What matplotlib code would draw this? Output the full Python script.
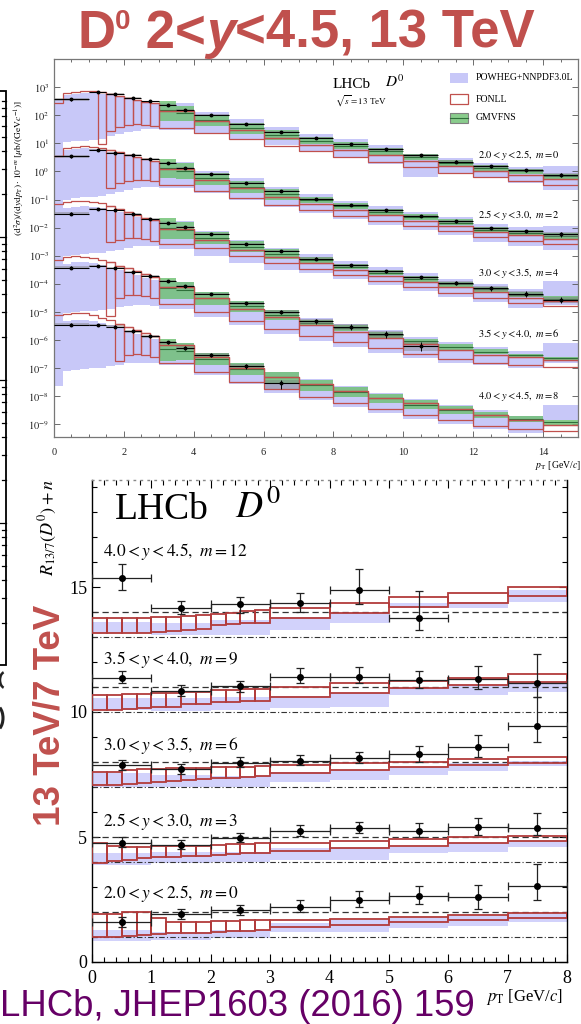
import numpy as np
import matplotlib
matplotlib.use("Agg")
import matplotlib.pyplot as plt
from matplotlib.patches import Rectangle, Arc
from matplotlib.ticker import FixedLocator, MultipleLocator

plt.rcParams['font.family'] = ['Liberation Serif', 'DejaVu Serif']
plt.rcParams['mathtext.fontset'] = 'stix'

# ---------------------------------------------------------------------------
# 13 TeV double-differential D0 cross-section, log10 of d2sigma/(dy dpT)
# in ub/(GeV/c); rows are rapidity bins, plotted with a 10^-m offset
# ---------------------------------------------------------------------------
pt_edges = [0, 1, 1.5, 2, 2.5, 3, 3.5, 4, 5, 6, 7, 8, 9, 10, 11, 12, 13, 14, 15]
th_edges = [0, .25, .5, .75, 1, 1.25, 1.5, 1.75, 2, 2.25, 2.5, 2.75, 3,
            4, 5, 6, 7, 8, 9, 10, 11, 12, 13, 14, 15]
gm_edges = [3, 3.5, 4, 5, 6, 7, 8, 9, 10, 11, 12, 13, 14, 15]
nan = float('nan')

row_labels = [r"$2.0 < y < 2.5,\ m = 0$", r"$2.5 < y < 3.0,\ m = 2$",
              r"$3.0 < y < 3.5,\ m = 4$", r"$3.5 < y < 4.0,\ m = 6$",
              r"$4.0 < y < 4.5,\ m = 8$"]
row_m = [0, 2, 4, 6, 8]

data_y20 = [2.57, 2.81, 2.77, 2.61, 2.49, 2.37, 2.19, 2.00, 1.70, 1.42, 1.18, 0.99, 0.78, 0.57, 0.35, 0.18, 0.05, -0.13]
data_y25 = [2.55, 2.75, 2.65, 2.58, 2.45, 2.29, 2.13, 1.90, 1.60, 1.30, 1.03, 0.80, 0.61, 0.41, 0.23, -0.03, -0.13, -0.24]
data_y30 = [2.50, 2.65, 2.61, 2.50, 2.32, 2.17, 2.03, 1.76, 1.43, 1.16, 0.90, 0.66, 0.45, 0.23, 0.03, -0.15, -0.35, -0.56]
data_y35 = [2.57, 2.62, 2.57, 2.42, 2.27, 2.09, 1.91, 1.65, 1.32, 1.00, 0.66, 0.48, 0.22, -0.20, nan, nan, nan, nan]
data_y40 = [2.54, 2.54, 2.48, 2.31, 2.13, 1.92, 1.72, 1.47, 1.06, 0.46, nan, nan, nan, nan, nan, nan, nan, nan]

# relative uncertainty of the measurement
derr_y20 = [0.12, 0.08, 0.08, 0.07, 0.07, 0.07, 0.07, 0.07, 0.07, 0.08, 0.08, 0.09, 0.10, 0.10, 0.11, 0.12, 0.13, 0.15]
derr_y25 = [0.12, 0.08, 0.08, 0.07, 0.07, 0.07, 0.07, 0.07, 0.07, 0.08, 0.08, 0.09, 0.10, 0.10, 0.12, 0.14, 0.15, 0.18]
derr_y30 = [0.12, 0.08, 0.08, 0.07, 0.07, 0.07, 0.07, 0.08, 0.08, 0.09, 0.10, 0.12, 0.13, 0.15, 0.18, 0.20, 0.22, 0.25]
derr_y35 = [0.12, 0.08, 0.08, 0.08, 0.08, 0.09, 0.10, 0.10, 0.12, 0.14, 0.18, 0.22, 0.26, 0.35, nan, nan, nan, nan]
derr_y40 = [0.12, 0.09, 0.09, 0.10, 0.11, 0.12, 0.14, 0.16, 0.20, 0.35, nan, nan, nan, nan, nan, nan, nan, nan]

fonll_hi_y20 = [2.45, 2.78, 2.83, 2.86, 2.85, 2.82, 2.74, 2.67, 2.60, 2.54, 2.47, 2.42, 2.15, 1.80, 1.48, 1.20, 0.95, 0.76, 0.57, 0.38, 0.18, 0.01, -0.12, -0.27]
fonll_lo_y20 = [nan, nan, nan, nan, nan, 0.97, 1.44, 1.57, 1.64, 1.68, 1.66, 1.63, 1.53, 1.35, 1.15, 0.92, 0.72, 0.52, 0.33, 0.14, -0.05, -0.20, -0.33, -0.47]
fonll_hi_y25 = [2.55, 2.82, 2.88, 2.90, 2.88, 2.84, 2.76, 2.68, 2.60, 2.52, 2.44, 2.38, 2.08, 1.70, 1.40, 1.10, 0.85, 0.63, 0.44, 0.25, 0.06, -0.16, -0.28, -0.40]
fonll_lo_y25 = [nan, nan, nan, nan, nan, nan, 1.42, 1.58, 1.66, 1.70, 1.70, 1.67, 1.50, 1.32, 1.05, 0.80, 0.62, 0.43, 0.25, 0.05, -0.13, -0.35, -0.47, -0.59]
fonll_hi_y30 = [2.85, 2.90, 2.94, 2.95, 2.92, 2.86, 2.76, 2.66, 2.56, 2.46, 2.36, 2.28, 1.95, 1.55, 1.22, 0.96, 0.74, 0.50, 0.29, 0.08, -0.12, -0.30, -0.50, -0.62]
fonll_lo_y30 = [nan, nan, nan, nan, nan, nan, 1.48, 1.55, 1.62, 1.62, 1.58, 1.52, 1.42, 1.28, 1.00, 0.75, 0.52, 0.30, 0.10, -0.12, -0.32, -0.50, -0.68, -0.80]
fonll_hi_y35 = [2.86, 2.95, 2.98, 2.97, 2.93, 2.86, 2.76, 2.65, 2.55, 2.45, 2.35, 2.25, 1.90, 1.48, 1.12, 0.82, 0.52, 0.28, 0.06, -0.15, -0.35, -0.52, -0.62, -0.70]
fonll_lo_y35 = [nan, nan, nan, nan, nan, nan, 0.84, 1.50, 1.62, 1.62, 1.58, 1.48, 1.28, 0.98, 0.68, 0.40, 0.15, -0.08, -0.30, -0.50, -0.68, -0.82, -0.90, -0.95]
fonll_hi_y40 = [2.88, 2.94, 2.96, 2.95, 2.90, 2.80, 2.70, 2.58, 2.46, 2.36, 2.26, 2.16, 1.82, 1.40, 1.02, 0.70, 0.42, 0.18, -0.05, -0.25, -0.45, -0.65, -0.85, -1.02]
fonll_lo_y40 = [nan, nan, nan, nan, nan, nan, nan, 1.24, 1.48, 1.50, 1.48, 1.40, 1.18, 0.85, 0.52, 0.25, -0.02, -0.25, -0.47, -0.67, -0.86, -1.05, -1.15, -1.23]

powheg_hi_y20 = [2.57, 2.72, 2.77, 2.80, 2.80, 2.77, 2.71, 2.64, 2.58, 2.52, 2.46, 2.40, 2.45, 2.13, 1.85, 1.57, 1.33, 1.14, 0.93, 0.62, 0.48, 0.30, 0.17, 0.20]
powheg_lo_y20 = [0.30, 1.04, 1.08, 1.10, 1.13, 1.15, 1.25, 1.32, 1.40, 1.45, 1.50, 1.50, 1.48, 1.32, 1.15, 0.95, 0.68, 0.48, 0.28, -0.19, -0.10, -0.25, -0.40, -0.65]
powheg_hi_y25 = [2.58, 2.75, 2.80, 2.82, 2.80, 2.76, 2.70, 2.62, 2.55, 2.48, 2.42, 2.36, 2.35, 2.03, 1.75, 1.45, 1.18, 0.95, 0.76, 0.56, 0.38, 0.14, 0.02, 0.05]
powheg_lo_y25 = [0.20, 1.00, 1.05, 1.08, 1.10, 1.12, 1.20, 1.28, 1.35, 1.42, 1.45, 1.45, 1.40, 1.22, 1.00, 0.75, 0.52, 0.30, 0.10, -0.10, -0.28, -0.52, -0.64, -0.80]
powheg_hi_y30 = [2.55, 2.70, 2.75, 2.76, 2.74, 2.70, 2.62, 2.54, 2.46, 2.38, 2.30, 2.22, 2.22, 1.88, 1.55, 1.28, 1.05, 0.81, 0.60, 0.38, 0.18, 0.00, -0.20, 0.09]
powheg_lo_y30 = [0.00, 0.98, 1.02, 1.05, 1.08, 1.10, 1.16, 1.22, 1.28, 1.33, 1.36, 1.34, 1.25, 1.00, 0.75, 0.48, 0.40, 0.16, -0.05, -0.27, -0.47, -0.65, -0.85, -0.75]
powheg_hi_y35 = [2.60, 2.72, 2.76, 2.76, 2.73, 2.67, 2.58, 2.48, 2.38, 2.30, 2.20, 2.12, 2.05, 1.72, 1.38, 1.08, 0.80, 0.58, 0.35, 0.12, -0.08, -0.25, -0.38, -0.10]
powheg_lo_y35 = [-0.20, 0.95, 1.00, 1.03, 1.05, 1.08, 1.12, 1.16, 1.20, 1.25, 1.25, 1.22, 1.10, 0.82, 0.52, 0.22, -0.02, -0.25, -0.45, -0.65, -0.80, -0.90, -1.00, -0.80]
powheg_hi_y40 = [2.55, 2.68, 2.72, 2.72, 2.68, 2.62, 2.52, 2.42, 2.32, 2.22, 2.12, 2.02, 1.90, 1.55, 1.20, 0.88, 0.60, 0.35, 0.12, -0.10, -0.30, -0.50, -0.70, -0.31]
powheg_lo_y40 = [0.35, 0.90, 0.95, 0.98, 1.00, 1.02, 1.07, 1.12, 1.17, 1.20, 1.20, 1.18, 1.10, 0.75, 0.45, 0.12, -0.15, -0.40, -0.60, -0.80, -0.98, -1.15, -1.30, -0.84]

gmvfns_hi_y20 = [2.50, 2.32, 2.02, 1.74, 1.46, 1.23, 1.04, 0.83, 0.62, 0.40, 0.23, 0.10, -0.08]
gmvfns_lo_y20 = [1.80, 1.80, 1.60, 1.32, 1.12, 0.97, 0.80, 0.60, 0.40, 0.19, 0.02, -0.10, -0.28]
gmvfns_c_y20 = [2.20, 2.08, 1.83, 1.55, 1.30, 1.10, 0.92, 0.72, 0.51, 0.30, 0.13, 0.00, -0.18]
gmvfns_hi_y25 = [2.45, 2.30, 1.95, 1.65, 1.36, 1.08, 0.86, 0.66, 0.47, 0.29, 0.03, -0.08, -0.19]
gmvfns_lo_y25 = [1.75, 1.72, 1.52, 1.22, 0.98, 0.88, 0.65, 0.46, 0.26, 0.08, -0.18, -0.28, -0.39]
gmvfns_c_y25 = [2.12, 2.02, 1.75, 1.45, 1.18, 0.98, 0.76, 0.56, 0.37, 0.18, -0.07, -0.18, -0.29]
gmvfns_hi_y30 = [2.35, 2.20, 1.85, 1.52, 1.24, 0.95, 0.71, 0.50, 0.28, 0.08, -0.10, -0.30, -0.45]
gmvfns_lo_y30 = [1.60, 1.58, 1.40, 1.12, 0.90, 0.75, 0.51, 0.30, 0.08, -0.12, -0.30, -0.48, -0.62]
gmvfns_c_y30 = [2.00, 1.92, 1.62, 1.32, 1.07, 0.85, 0.61, 0.40, 0.18, -0.02, -0.20, -0.39, -0.54]
gmvfns_hi_y35 = [2.20, 2.05, 1.72, 1.40, 1.08, 0.72, 0.53, 0.28, 0.05, -0.15, -0.32, -0.48, -0.59]
gmvfns_lo_y35 = [1.45, 1.45, 1.25, 0.98, 0.70, 0.50, 0.33, 0.08, -0.15, -0.35, -0.50, -0.62, -0.70]
gmvfns_c_y35 = [1.85, 1.78, 1.50, 1.20, 0.90, 0.62, 0.43, 0.18, -0.05, -0.25, -0.41, -0.55, -0.65]
gmvfns_hi_y40 = [2.05, 1.88, 1.55, 1.20, 0.88, 0.58, 0.32, 0.08, -0.15, -0.35, -0.55, -0.72, -0.84]
gmvfns_lo_y40 = [1.25, 1.30, 1.10, 0.75, 0.45, 0.20, -0.02, -0.25, -0.45, -0.62, -0.78, -0.92, -1.02]
gmvfns_c_y40 = [1.68, 1.62, 1.33, 0.98, 0.67, 0.39, 0.15, -0.08, -0.30, -0.48, -0.66, -0.82, -0.93]

# ---------------------------------------------------------------------------
# 13 TeV / 7 TeV ratio, plotted with an offset n
# ---------------------------------------------------------------------------
ratio_edges = [0, 1, 2, 3, 4, 5, 6, 7, 8]
fonll_r_edges = [0, .25, .5, .75, 1, 1.25, 1.5, 1.75, 2, 2.25, 2.5, 2.75, 3, 4, 5, 6, 7, 8]
ratio_labels = [r"$2.0 < y < 2.5,\ m = 0$", r"$2.5 < y < 3.0,\ m = 3$",
                r"$3.0 < y < 3.5,\ m = 6$", r"$3.5 < y < 4.0,\ m = 9$",
                r"$4.0 < y < 4.5,\ m = 12$"]
ratio_n = [0, 3, 6, 9, 12]

r_y20 = [1.60, 1.92, 2.08, 2.20, 2.48, 2.64, 2.60, 3.04]
r_lo_y20 = [1.40, 1.72, 1.88, 2.00, 2.20, 2.32, 2.12, 2.48]
r_hi_y20 = [1.80, 2.12, 2.28, 2.48, 2.84, 3.04, 3.08, 3.92]
r_y25 = [1.76, 1.68, 1.96, 2.24, 2.36, 2.24, 2.40, 2.36]
r_lo_y25 = [1.60, 1.52, 1.80, 2.04, 2.16, 2.00, 2.08, 2.08]
r_hi_y25 = [2.00, 1.88, 2.16, 2.48, 2.60, 2.56, 2.76, 2.96]
r_y30 = [1.88, 1.72, 1.96, 2.04, 2.16, 2.32, 2.60, 3.44]
r_lo_y30 = [1.68, 1.52, 1.80, 1.88, 1.96, 2.00, 2.20, 2.80]
r_hi_y30 = [2.08, 1.92, 2.20, 2.28, 2.40, 2.64, 3.08, 4.60]
r_y35 = [2.36, 1.84, 2.04, 2.40, 2.40, 2.28, 2.32, 2.16]
r_lo_y35 = [2.16, 1.64, 1.80, 2.16, 2.16, 1.96, 1.92, 1.60]
r_hi_y35 = [2.64, 2.08, 2.24, 2.76, 2.80, 2.64, 2.84, 3.32]
r_y40 = [3.36, 2.16, 2.32, 2.36, 2.88, 1.76]
r_lo_y40 = [2.88, 1.92, 1.96, 2.00, 2.32, 1.28]
r_hi_y40 = [3.92, 2.44, 2.60, 2.76, 3.72, 2.84]

rfonll_hi_y20 = [1.91, 1.91, 1.99, 2.01, 1.75, 1.61, 1.61, 1.61, 1.65, 1.65, 1.67, 1.69, 1.68, 1.73, 1.81, 1.88, 1.95]
rfonll_lo_y20 = [1.01, 1.01, 1.04, 1.08, 1.12, 1.15, 1.15, 1.17, 1.21, 1.23, 1.25, 1.28, 1.41, 1.47, 1.59, 1.68, 1.75]
rfonll_hi_y25 = [1.77, 1.64, 1.61, 1.59, 1.64, 1.64, 1.64, 1.64, 1.68, 1.71, 1.72, 1.75, 1.77, 1.85, 1.92, 1.99, 2.05]
rfonll_lo_y25 = [0.97, 1.05, 1.08, 1.15, 1.19, 1.21, 1.24, 1.24, 1.28, 1.31, 1.35, 1.37, 1.44, 1.55, 1.64, 1.75, 1.85]
rfonll_hi_y30 = [1.61, 1.61, 1.68, 1.71, 1.71, 1.75, 1.75, 1.77, 1.79, 1.81, 1.81, 1.84, 1.88, 1.95, 2.01, 2.11, 2.21]
rfonll_lo_y30 = [1.08, 1.08, 1.12, 1.15, 1.21, 1.24, 1.28, 1.31, 1.35, 1.37, 1.41, 1.44, 1.55, 1.68, 1.79, 1.88, 1.97]
rfonll_hi_y35 = [1.68, 1.68, 1.71, 1.71, 1.75, 1.75, 1.81, 1.81, 1.88, 1.88, 1.91, 1.91, 1.99, 2.15, 2.25, 2.35, 2.51]
rfonll_lo_y35 = [1.08, 1.08, 1.11, 1.15, 1.21, 1.21, 1.32, 1.32, 1.41, 1.41, 1.45, 1.45, 1.61, 1.77, 1.95, 2.08, 2.21]
rfonll_hi_y40 = [1.75, 1.75, 1.75, 1.75, 1.79, 1.81, 1.85, 1.88, 1.92, 1.97, 2.04, 2.08, 2.17, 2.37, 2.59, 2.77, 3.01]
rfonll_lo_y40 = [1.15, 1.15, 1.17, 1.18, 1.21, 1.24, 1.28, 1.31, 1.48, 1.52, 1.55, 1.57, 1.75, 1.95, 2.19, 2.37, 2.64]

rpowheg_hi_y20 = [1.28, 1.22, 1.30, 1.55, 1.70, 1.78, 1.85, 1.92]
rpowheg_lo_y20 = [0.85, 0.90, 0.95, 1.20, 1.20, 1.35, 1.45, 1.60]
rpowheg_hi_y25 = [1.35, 1.40, 1.40, 1.55, 1.55, 1.60, 1.75, 1.85]
rpowheg_lo_y25 = [0.88, 0.95, 1.00, 1.10, 1.08, 1.35, 1.41, 1.61]
rpowheg_hi_y30 = [1.55, 1.50, 1.45, 1.60, 1.68, 1.81, 1.95, 2.05]
rpowheg_lo_y30 = [1.01, 1.00, 1.01, 1.20, 1.28, 1.48, 1.65, 1.85]
rpowheg_hi_y35 = [1.55, 1.55, 1.60, 1.65, 1.75, 1.95, 2.08, 2.21]
rpowheg_lo_y35 = [1.08, 1.05, 1.10, 1.15, 1.21, 1.68, 1.68, 1.81]
rpowheg_hi_y40 = [1.60, 1.55, 1.68, 1.80, 1.95, 2.35, 2.41, 2.88]
rpowheg_lo_y40 = [1.15, 1.08, 1.08, 1.30, 1.55, 2.15, 2.15, 2.41]

# log-axis frame of the neighbouring slide object at the left edge (decade marks)
side_decades = [94, 237, 380, 523, 666]

# ---------------------------------------------------------------------------
W, H = 581, 1024
fig = plt.figure(figsize=(W / 100, H / 100), dpi=100)


def fx(x):
    return x / W


def fy(y):
    return 1 - y / H


def axes_px(left, top, right, bottom):
    return fig.add_axes([fx(left), fy(bottom), (right - left) / W, (bottom - top) / H])


POW_C = '#c8c8f8'
FON_C = '#c0504d'
GM_C = '#6cc070'
GM_DARK = '#2f6f3a'
GRAY = '#808080'
SLIDE_RED = '#c0504d'
SANS = ['Liberation Sans', 'DejaVu Sans']

# ----------------------------- upper panel ---------------------------------
ax = axes_px(54, 59, 578, 437)
ax.set_yscale('log')
ax.set_xlim(0, 15)
ax.set_ylim(10 ** -9.45, 10 ** 4.0)

rows = [
    (data_y20, derr_y20, fonll_hi_y20, fonll_lo_y20, powheg_hi_y20, powheg_lo_y20, gmvfns_hi_y20, gmvfns_lo_y20, gmvfns_c_y20),
    (data_y25, derr_y25, fonll_hi_y25, fonll_lo_y25, powheg_hi_y25, powheg_lo_y25, gmvfns_hi_y25, gmvfns_lo_y25, gmvfns_c_y25),
    (data_y30, derr_y30, fonll_hi_y30, fonll_lo_y30, powheg_hi_y30, powheg_lo_y30, gmvfns_hi_y30, gmvfns_lo_y30, gmvfns_c_y30),
    (data_y35, derr_y35, fonll_hi_y35, fonll_lo_y35, powheg_hi_y35, powheg_lo_y35, gmvfns_hi_y35, gmvfns_lo_y35, gmvfns_c_y35),
    (data_y40, derr_y40, fonll_hi_y40, fonll_lo_y40, powheg_hi_y40, powheg_lo_y40, gmvfns_hi_y40, gmvfns_lo_y40, gmvfns_c_y40),
]

the = np.array(th_edges)
pte = np.array(pt_edges)
gme = np.array(gm_edges)
for (dat, derr, fhi, flo, phi, plo, ghi, glo, gc), m in zip(rows, row_m):
    scale = 10.0 ** (-m)
    # POWHEG band
    phi_v = 10 ** np.array(phi) * scale
    plo_v = 10 ** np.array(plo) * scale
    ax.bar(the[:-1], phi_v - plo_v, width=np.diff(the), bottom=plo_v, align='edge',
           color=POW_C, linewidth=0, zorder=1)
    # GMVFNS band
    ghi_v = 10 ** np.array(ghi) * scale
    glo_v = 10 ** np.array(glo) * scale
    ax.bar(gme[:-1], ghi_v - glo_v, width=np.diff(gme), bottom=glo_v, align='edge',
           color=GM_C, alpha=0.8, linewidth=0, zorder=2)
    ax.hlines(10 ** np.array(gc) * scale, gme[:-1], gme[1:], color=GM_DARK, lw=0.8, zorder=2.5)
    # data uncertainty boxes
    d = 10 ** np.array(dat) * scale
    e = np.array(derr)
    ok = np.isfinite(d)
    ax.bar(pte[:-1][ok], (2 * e * d)[ok], width=np.diff(pte)[ok], bottom=(d * (1 - e))[ok],
           align='edge', color=GRAY, alpha=0.45, linewidth=0, zorder=3)
    # FONLL: upper edge as a staircase, boxes where the lower edge is defined
    fhi_v = 10 ** np.array(fhi) * scale
    flo_v = 10 ** np.array(flo) * scale
    ax.stairs(fhi_v, the, baseline=None, color=FON_C, lw=0.9, zorder=4)
    okf = np.isfinite(flo_v)
    ax.bar(the[:-1][okf], (fhi_v - flo_v)[okf], width=np.diff(the)[okf], bottom=flo_v[okf],
           align='edge', fill=False, edgecolor=FON_C, linewidth=0.9, zorder=4)
    # data points
    ctr = 0.5 * (pte[:-1] + pte[1:])
    ax.hlines(d[ok], pte[:-1][ok], pte[1:][ok], color='black', lw=0.8, zorder=5)
    ax.errorbar(ctr[ok], d[ok], yerr=(e * d)[ok], fmt='o', ms=1.8, color='black',
                elinewidth=0.7, capsize=0, zorder=6)

ax.yaxis.set_major_locator(FixedLocator([10.0 ** k for k in range(-9, 4)]))
ax.yaxis.set_minor_locator(FixedLocator([]))
ax.set_yticklabels([r"$10^{%d}$" % k for k in range(-9, 4)])
ax.xaxis.set_major_locator(MultipleLocator(2))
ax.xaxis.set_minor_locator(MultipleLocator(0.5))
ax.tick_params(axis='both', which='both', direction='in', top=True, right=True,
               colors='#555555', labelcolor='#222222', width=0.6)
ax.tick_params(axis='both', which='major', length=4, labelsize=7.5)
ax.tick_params(axis='x', which='minor', length=2.5)
ax.tick_params(axis='x', which='major', pad=8)
for s in ax.spines.values():
    s.set_color('#777777')
    s.set_linewidth(0.9)

fig.text(fx(581), fy(465), r"$p_{\mathrm{T}}$ [GeV/$c$]", fontsize=7, ha='right', va='center')
fig.text(fx(20), fy(168),
         r"$(\mathrm{d}^2\sigma)/(\mathrm{d}y\mathrm{d}p_{\mathrm{T}})\cdot 10^{-m}\ [\mu\mathrm{b}/(\mathrm{GeV}c^{-1})]$",
         rotation=90, fontsize=6.8, ha='center', va='center')
fig.text(fx(333), fy(84), "LHCb", fontsize=11, ha='left', va='center')
fig.text(fx(385), fy(82), r"$D^0$", fontsize=11, ha='left', va='center')
fig.text(fx(335), fy(101), r"$\sqrt{s} = 13$ TeV", fontsize=6.5, ha='left', va='center')

for lbl, ypx in zip(row_labels, [155, 215, 273, 334, 396]):
    fig.text(fx(560), fy(ypx), lbl, fontsize=7.5, ha='right', va='center')

# overlay in pixel coordinates for legends and slide decorations
ov = fig.add_axes([0, 0, 1, 1], facecolor='none')
ov.set_xlim(0, W)
ov.set_ylim(H, 0)
ov.axis('off')
ov.add_patch(Rectangle((450, 73), 18, 10, facecolor=POW_C, edgecolor='none'))
ov.add_patch(Rectangle((450, 94), 18, 10, facecolor='white', edgecolor=FON_C, lw=0.9))
ov.add_patch(Rectangle((450, 113), 18, 10, facecolor=GM_C, edgecolor='none', alpha=0.8))
ov.add_patch(Rectangle((450, 113), 18, 10, facecolor='none', edgecolor=GRAY, lw=0.8))
ov.plot([450, 468], [118, 118], color=GM_DARK, lw=0.8)
for lbl, ypx in zip(["POWHEG+NNPDF3.0L", "FONLL", "GMVFNS"], [78, 99, 118]):
    ov.text(476, ypx, lbl, fontsize=7, ha='left', va='center')

# frame with logarithmic tick marks at the left slide edge
ov.plot([0, 5.5, 5.5, 0], [91, 91, 665, 665], color='black', lw=1.3, solid_joinstyle='miter')
for top, bot in zip(side_decades[:-1], side_decades[1:]):
    span = bot - top
    for mult in [9, 8, 7, 6, 5, 4, 3, 2]:
        yy = top + span * np.log10(10.0 / mult)
        ov.plot([1.5, 5.5], [yy, yy], color='black', lw=0.9)
for yy in side_decades[1:-1]:
    ov.plot([0, 5.5], [yy, yy], color='black', lw=0.9)
# curved strokes of that object's label, cut by the slide edge
ov.add_patch(Arc((5, 680), 10, 16, theta1=100, theta2=260, color='#222222', lw=1.8))
ov.add_patch(Arc((-5, 718), 16, 26, theta1=-65, theta2=65, color='#222222', lw=2.2))

# ----------------------------- lower panel ---------------------------------
bx = axes_px(92, 480, 567, 962)
bx.set_xlim(0, 8)
bx.set_ylim(0, 19.28)

ratio_rows = [
    (r_y20, r_lo_y20, r_hi_y20, rfonll_hi_y20, rfonll_lo_y20, rpowheg_hi_y20, rpowheg_lo_y20),
    (r_y25, r_lo_y25, r_hi_y25, rfonll_hi_y25, rfonll_lo_y25, rpowheg_hi_y25, rpowheg_lo_y25),
    (r_y30, r_lo_y30, r_hi_y30, rfonll_hi_y30, rfonll_lo_y30, rpowheg_hi_y30, rpowheg_lo_y30),
    (r_y35, r_lo_y35, r_hi_y35, rfonll_hi_y35, rfonll_lo_y35, rpowheg_hi_y35, rpowheg_lo_y35),
    (r_y40, r_lo_y40, r_hi_y40, rfonll_hi_y40, rfonll_lo_y40, rpowheg_hi_y40, rpowheg_lo_y40),
]
re = np.array(ratio_edges, dtype=float)
fe = np.array(fonll_r_edges, dtype=float)
for (rv, rlo, rhi, fhi, flo, phi, plo), n in zip(ratio_rows, ratio_n):
    phi = np.array(phi) + n
    plo = np.array(plo) + n
    bx.bar(re[:-1], phi - plo, width=np.diff(re), bottom=plo, align='edge',
           color='#d2d2fb', linewidth=0, zorder=1)
    fhi = np.array(fhi) + n
    flo = np.array(flo) + n
    bx.bar(fe[:-1], fhi - flo, width=np.diff(fe), bottom=flo, align='edge',
           fill=False, edgecolor='#b23b3b', linewidth=1.3, zorder=3)
    bx.axhline(n + 2, color='#333333', lw=0.9, ls=(0, (5, 3)), zorder=2)
    bx.axhline(n + 1, color='#333333', lw=0.8, ls=(0, (5, 2, 1, 2)), zorder=2)
    k = len(rv)
    ctr = 0.5 * (re[:-1] + re[1:])[:k]
    y = np.array(rv) + n
    yerr = [np.array(rv) - np.array(rlo), np.array(rhi) - np.array(rv)]
    bx.errorbar(ctr, y, xerr=0.5, yerr=yerr, fmt='o', ms=4, color='black',
                ecolor='#222222', elinewidth=0.9, capsize=3, capthick=0.9, zorder=5)

bx.yaxis.set_major_locator(FixedLocator([0, 5, 10, 15]))
bx.yaxis.set_minor_locator(MultipleLocator(1))
bx.xaxis.set_major_locator(MultipleLocator(1))
bx.xaxis.set_minor_locator(MultipleLocator(0.2))
bx.tick_params(axis='both', which='both', direction='in', top=True, right=True, width=0.8)
bx.tick_params(axis='both', which='major', length=6, labelsize=13)
bx.tick_params(axis='both', which='minor', length=3.5)
bx.tick_params(axis='x', which='major', pad=6)
for s in bx.spines.values():
    s.set_linewidth(1.0)
bx.spines['top'].set_linestyle((0, (1, 4)))
bx.spines['top'].set_color('#888888')

fig.text(fx(115), fy(510), "LHCb", fontsize=27, ha='left', va='center')
fig.text(fx(235), fy(508), r"$D^0$", fontsize=27, ha='left', va='center')
ov.add_patch(Rectangle((322, 493), 36, 12, facecolor='#d2d2fb', edgecolor='none'))
ov.add_patch(Rectangle((322, 517), 36, 13, facecolor='white', edgecolor='#b23b3b', lw=1.3))
ov.text(373, 499, "POWHEG+NNPDF3.0L", fontsize=12.8, ha='left', va='center')
ov.text(373, 523, "FONLL", fontsize=12.8, ha='left', va='center')
for lbl, ypx in zip(ratio_labels[::-1], [552, 660, 745, 822, 893]):
    fig.text(fx(103), fy(ypx), lbl, fontsize=12.5, ha='left', va='center')
fig.text(fx(48), fy(528), r"$R_{13/7}(D^0)+n$", rotation=90, fontsize=13, ha='center', va='center')
fig.text(fx(524), fy(997), r"$p_{\mathrm{T}}$ [GeV/$c$]", fontsize=12, ha='center', va='center')

# ----------------------------- slide annotations ---------------------------
# title assembled piece by piece: D, superscript 0, italic y
renderer = fig.canvas.get_renderer()
title_parts = [("D", 38, 'normal', 0), ("0", 20, 'normal', 19), (" 2<", 38, 'normal', 0),
               ("y", 38, 'italic', 0), ("<4.5, 13 TeV", 38, 'normal', 0)]
objs = []
for txt, size, style, lift in title_parts:
    t = ov.text(0, 48 - lift, txt, fontsize=size, fontstyle=style, fontweight='bold',
                color=SLIDE_RED, family=SANS, ha='left', va='baseline')
    objs.append((t, t.get_window_extent(renderer).width))
total = sum(wd for _, wd in objs)
xcur = 306 - total / 2
for t, wd in objs:
    t.set_x(xcur)
    xcur += wd

fig.text(fx(50), fy(715), "13 TeV/7 TeV", rotation=90, fontsize=26.5, color=SLIDE_RED,
         fontweight='bold', family=SANS, ha='center', va='center')
fig.text(fx(0), fy(1007), "LHCb, JHEP1603 (2016) 159", fontsize=26.3, color='#660066',
         family=SANS, ha='left', va='center')

fig.savefig("out.png", dpi=100)
